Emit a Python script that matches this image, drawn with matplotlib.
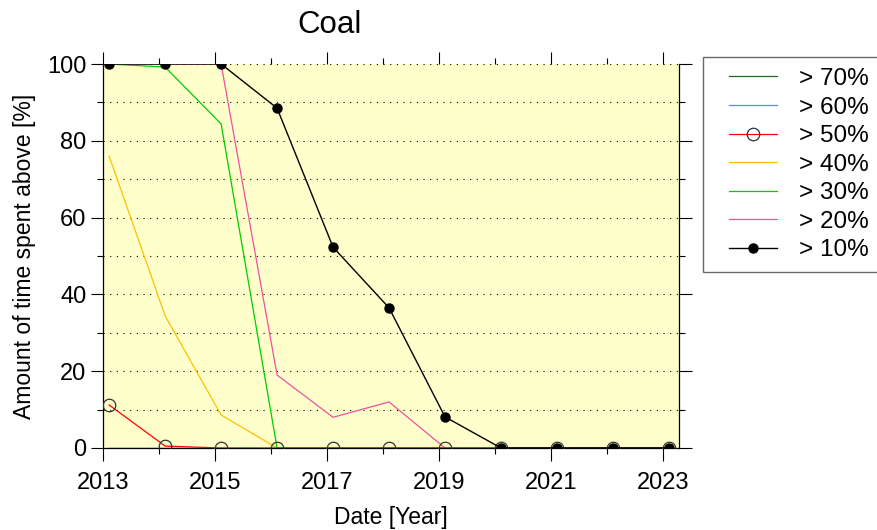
import matplotlib
matplotlib.use("Agg")
import matplotlib.pyplot as plt
from matplotlib.ticker import FixedLocator, MultipleLocator
from matplotlib.legend_handler import HandlerLine2D

plt.rcParams["font.family"] = ["Liberation Sans", "DejaVu Sans"]

# sampling dates (early each year)
years = [2013.11, 2014.11, 2015.11, 2016.11, 2017.11, 2018.11,
         2019.11, 2020.11, 2021.11, 2022.11, 2023.11]

# share of time spent above each threshold [%]
above_70 = [0, 0, 0, 0, 0, 0, 0, 0, 0, 0, 0]
above_60 = [0, 0, 0, 0, 0, 0, 0, 0, 0, 0, 0]
above_50 = [11.2, 0.5, 0, 0, 0, 0, 0, 0, 0, 0, 0]
above_40 = [76, 34.4, 8.6, 0, 0, 0, 0, 0, 0, 0, 0]
above_30 = [100, 99.2, 84.4, 0, 0, 0, 0, 0, 0, 0, 0]
above_20 = [100, 100, 100, 19, 8, 12, 0, 0, 0, 0, 0]
above_10 = [100, 100, 100, 88.5, 52.3, 36.5, 8.1, 0, 0, 0, 0]

labels = ["> 70%", "> 60%", "> 50%", "> 40%", "> 30%", "> 20%", "> 10%"]
year_ticks = [2013, 2015, 2017, 2019, 2021, 2023]

fig = plt.figure(figsize=(8.78, 5.30), dpi=100)
ax = fig.add_axes([103 / 878, 1 - 448 / 530, 576 / 878, 384 / 530])
ax.set_facecolor("#ffffcc")

# dotted horizontal guides every 10 %
for yv in range(10, 101, 10):
    ax.axhline(yv, color="black", lw=0.8, ls=(0, (1, 5)), zorder=1)

h70, = ax.plot(years, above_70, color="#1a6b1a", lw=0.9, zorder=2)
h60, = ax.plot(years, above_60, color="#5e8fd6", lw=0.9, zorder=2)
h50, = ax.plot(years, above_50, color="red", lw=0.9, marker="o", ms=9,
               mfc="none", mec="#333333", mew=0.9, zorder=3)
h40, = ax.plot(years, above_40, color="#ffbf00", lw=0.9, zorder=2)
h30, = ax.plot(years, above_30, color="#00cc00", lw=0.9, zorder=2)
h20, = ax.plot(years, above_20, color="#f0509e", lw=0.9, zorder=2)
h10, = ax.plot(years, above_10, color="black", lw=1.0, marker="o", ms=6.5,
               zorder=4)

ax.set_xlim(2013, 2023.29)
ax.set_ylim(0, 100)

ax.xaxis.set_major_locator(FixedLocator(year_ticks))
ax.xaxis.set_minor_locator(MultipleLocator(1))
ax.yaxis.set_major_locator(MultipleLocator(20))
ax.yaxis.set_minor_locator(MultipleLocator(10))
ax.tick_params(which="both", direction="out", top=True, right=True,
               width=0.8, labelsize=17)
ax.tick_params(which="major", length=9)
ax.tick_params(which="minor", length=4.5)
ax.tick_params(axis="x", which="major", pad=8)
ax.tick_params(axis="y", which="major", pad=3)

for side in ("left", "right", "bottom"):
    ax.spines[side].set_linewidth(0.9)
ax.spines["top"].set_visible(False)

ax.set_xlabel("Date [Year]", fontsize=16.5, labelpad=9)
ax.set_ylabel("Amount of time spent above [%]", fontsize=16.5, labelpad=8)

fig.text(330 / 878, 1 - 25 / 530, "Coal", fontsize=22.5, ha="center", va="center")

handles = [h70, h60, h50, h40, h30, h20, h10]
leg = fig.legend(handles, labels, loc="upper left",
                 bbox_to_anchor=(703 / 878, 1 - 57 / 530), borderaxespad=0,
                 fontsize=17.5, frameon=True, fancybox=False, edgecolor="#444444",
                 borderpad=0.45, handlelength=2.6, handletextpad=0.88,
                 labelspacing=0.27, numpoints=1,
                 handler_map={h: HandlerLine2D(xpad=0.6) for h in handles})
leg.get_frame().set_linewidth(1.0)

fig.savefig("out.png", dpi=100)
